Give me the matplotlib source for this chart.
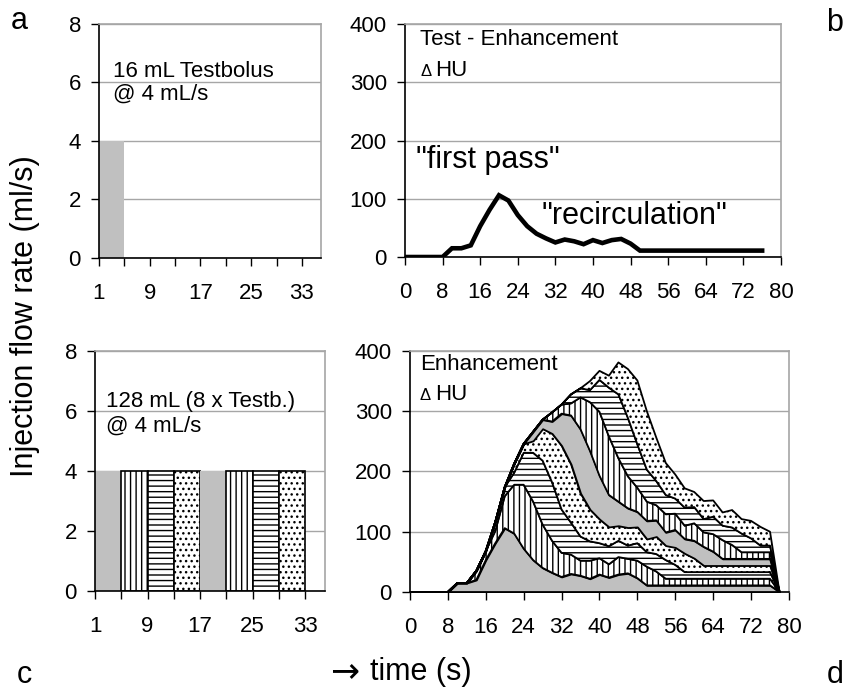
import numpy as np
import matplotlib
matplotlib.use("Agg")
import matplotlib.pyplot as plt

plt.rcParams['font.family'] = ['Liberation Sans', 'DejaVu Sans']
plt.rcParams['hatch.linewidth'] = 1.0

# ---- data ----
# panel a / c: injection blocks (category axis 1..36, one category per second)
test_block_start = [1]
test_block_flow = [4]
full_block_start = [1, 5, 9, 13, 17, 21, 25, 29]
full_block_flow = [4, 4, 4, 4, 4, 4, 4, 4]
block_width = 4

# panel b: test bolus enhancement curve (HU), sampled every 2 s
time_b = [0, 2, 4, 6, 8, 10, 12, 14, 16, 18, 20, 22, 24, 26, 28, 30, 32, 34,
          36, 38, 40, 42, 44, 46, 48, 50, 52, 54, 56, 58, 60, 62, 64, 66, 68,
          70, 72, 74, 76]
test_hu = [0, 0, 0, 0, 0, 15, 15, 20, 53, 81, 106, 97, 72, 53, 40, 32, 25, 30,
           27, 22, 29, 24, 29, 31, 23, 11, 11, 11, 11, 11, 11, 11, 11, 11, 11,
           11, 11, 11, 11]

# panel d: the 8 test-sized boluses start 4 s apart; curve drops to 0 at 78 s
bolus_offsets_s = [0, 4, 8, 12, 16, 20, 24, 28]
end_time_d = 78

patterns = ['', '|||', '---', '...', '', '|||', '---', '...']
GRAY = '#c0c0c0'
GRID = '#a6a6a6'
FS = 16
BIG = 22


def style_axes(ax):
    ax.set_axisbelow(True)
    ax.yaxis.grid(True, color=GRID, lw=1.0)
    ax.spines['left'].set_color('black')
    ax.spines['bottom'].set_color('black')
    ax.spines['left'].set_linewidth(1.2)
    ax.spines['bottom'].set_linewidth(1.2)
    for s in ('top', 'right'):
        ax.spines[s].set_color(GRID)
        ax.spines[s].set_linewidth(1.2)
    ax.tick_params(axis='both', direction='out', length=6, width=1.0,
                   labelsize=FS)
    ax.tick_params(axis='x', pad=12)
    ax.tick_params(axis='y', pad=7)


def flow_axes(ax):
    style_axes(ax)
    ax.set_xlim(1, 36)
    ax.set_ylim(0, 8)
    ax.set_yticks([0, 2, 4, 6, 8])
    ax.set_xticks([1, 5, 9, 13, 17, 21, 25, 29, 33])
    ax.set_xticklabels(['1', '', '9', '', '17', '', '25', '', '33'])


def hu_axes(ax):
    style_axes(ax)
    ax.set_xlim(0, 80)
    ax.set_ylim(0, 400)
    ax.set_yticks([0, 100, 200, 300, 400])
    ax.set_xticks(range(0, 81, 8))


def delta_hu(ax, x, y, dx):
    ax.text(x, y, '\u0394', transform=ax.transAxes, fontsize=12,
            va='baseline', ha='left')
    ax.text(x + dx, y, 'HU', transform=ax.transAxes, fontsize=FS,
            va='baseline', ha='left')


fig = plt.figure(figsize=(8.46, 6.92), dpi=100)
ax_a = fig.add_axes([0.117, 0.6272, 0.2624, 0.3382])
ax_b = fig.add_axes([0.4787, 0.6286, 0.4444, 0.3367])
ax_c = fig.add_axes([0.1123, 0.1460, 0.2719, 0.3468])
ax_d = fig.add_axes([0.4846, 0.1445, 0.4480, 0.3483])

# a: single test bolus
flow_axes(ax_a)
ax_a.bar(test_block_start, test_block_flow, width=block_width, align='edge',
         color=GRAY, edgecolor='none', zorder=2)
ax_a.text(0.063, 0.774, '16 mL Testbolus', transform=ax_a.transAxes,
          fontsize=FS, va='baseline')
ax_a.text(0.063, 0.675, '@ 4 mL/s', transform=ax_a.transAxes,
          fontsize=FS, va='baseline')

# c: full bolus = 8 test boluses in a row
flow_axes(ax_c)
for start, flow, hatch in zip(full_block_start, full_block_flow, patterns):
    if hatch:
        ax_c.bar(start, flow, width=block_width, align='edge', color='white',
                 edgecolor='black', hatch=hatch, lw=1.2, zorder=2)
    else:
        ax_c.bar(start, flow, width=block_width, align='edge', color=GRAY,
                 edgecolor='none', zorder=2)
ax_c.text(0.048, 0.767, '128 mL (8 x Testb.)', transform=ax_c.transAxes,
          fontsize=FS, va='baseline')
ax_c.text(0.048, 0.6625, '@ 4 mL/s', transform=ax_c.transAxes,
          fontsize=FS, va='baseline')

# b: test enhancement curve
hu_axes(ax_b)
ax_b.plot(time_b, test_hu, color='black', lw=3.3, solid_joinstyle='miter',
          zorder=3)
ax_b.text(0.040, 0.910, 'Test - Enhancement', transform=ax_b.transAxes,
          fontsize=FS, va='baseline')
delta_hu(ax_b, 0.040, 0.777, 0.040)
ax_b.text(0.029, 0.382, '"first pass"', transform=ax_b.transAxes,
          fontsize=BIG, va='baseline')
ax_b.text(0.364, 0.142, '"recirculation"', transform=ax_b.transAxes,
          fontsize=BIG, va='baseline')

# d: superposition of the shifted test curves
hu_axes(ax_d)
time_d = list(time_b) + [end_time_d]
test_arr = np.array(test_hu, dtype=float)
step = time_b[1] - time_b[0]
layers = []
for off in bolus_offsets_s:
    k = off // step
    shifted = np.concatenate([np.zeros(k), test_arr[:len(test_arr) - k]])
    layers.append(np.append(shifted, 0.0))
colors = [GRAY if p == '' else 'white' for p in patterns]
polys = ax_d.stackplot(time_d, *layers, colors=colors, edgecolor='black',
                       lw=1.3, zorder=2)
for poly, hatch in zip(polys, patterns):
    if hatch:
        poly.set_hatch(hatch)
ax_d.text(0.026, 0.921, 'Enhancement', transform=ax_d.transAxes,
          fontsize=FS, va='baseline')
delta_hu(ax_d, 0.026, 0.797, 0.040)

# figure-level labels
fig.text(25 / 846, 1 - 316 / 692, 'Injection flow rate (ml/s)', rotation=90,
         fontsize=BIG, ha='center', va='center')
fig.text(330 / 846, 1 - 681 / 692, '\u2192', fontsize=25,
         family='DejaVu Sans', ha='left', va='baseline')
fig.text(370 / 846, 1 - 680 / 692, 'time (s)', fontsize=BIG,
         ha='left', va='baseline')
fig.text(19 / 846, 1 - 29 / 692, 'a', fontsize=BIG, ha='center',
         va='baseline')
fig.text(835 / 846, 1 - 31 / 692, 'b', fontsize=BIG, ha='center',
         va='baseline')
fig.text(24 / 846, 1 - 683 / 692, 'c', fontsize=BIG, ha='center',
         va='baseline')
fig.text(835 / 846, 1 - 683 / 692, 'd', fontsize=BIG, ha='center',
         va='baseline')

fig.savefig('out.png', dpi=100)
